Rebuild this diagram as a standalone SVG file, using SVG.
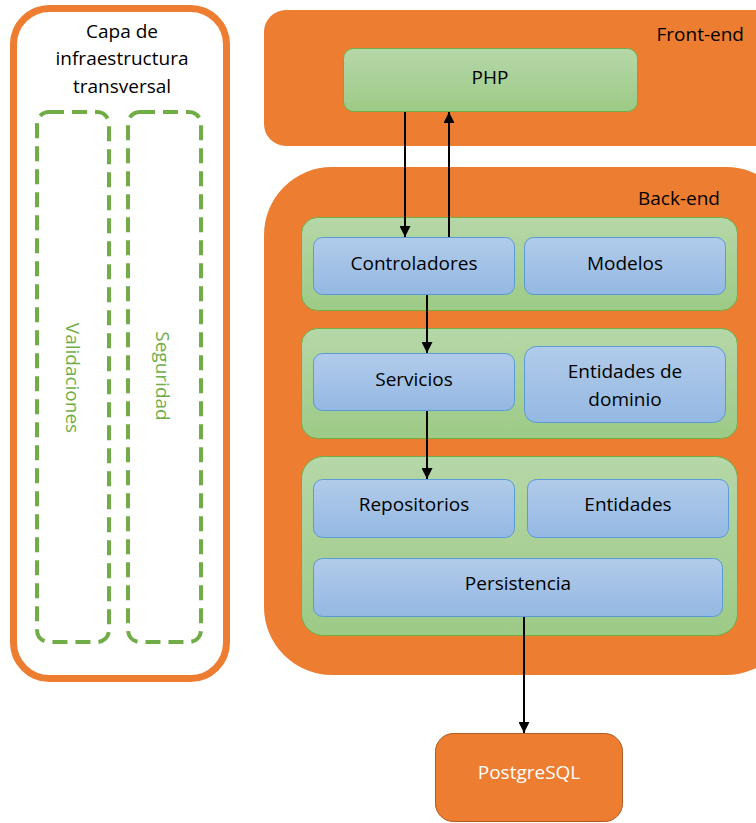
<svg xmlns="http://www.w3.org/2000/svg" width="756" height="823" viewBox="0 0 756 823">
<defs>
<linearGradient id="gGreen" x1="0" y1="0" x2="0" y2="1"><stop offset="0" stop-color="#B6D7A8"/><stop offset="1" stop-color="#9DCA86"/></linearGradient>
<linearGradient id="gBlue" x1="0" y1="0" x2="0" y2="1"><stop offset="0" stop-color="#B1CBEA"/><stop offset="1" stop-color="#94B8E2"/></linearGradient>
<marker id="arr" viewBox="0 0 10 10" refX="10" refY="5" markerWidth="11" markerHeight="11" markerUnits="userSpaceOnUse" orient="auto"><path d="M0,0 L10,5 L0,10 z" fill="#000"/></marker>
<style>
.t{font-family:"Open Sans","Liberation Sans",sans-serif;font-size:19px;fill:#000;text-anchor:middle}
.panel{fill:url(#gGreen);stroke:#70AD47;stroke-width:1}
.blue{fill:url(#gBlue);stroke:#5B9BD5;stroke-width:1}
.orange{fill:#ED7D31}
.dash{fill:none;stroke:#70AD47;stroke-width:4;stroke-dasharray:15 8}
.g{fill:#70AD47}
.c{stroke:#000;stroke-width:2;fill:none;marker-end:url(#arr)}
</style>
</defs>

<g id="infra">
<rect x="13.5" y="8.5" width="213" height="670" rx="36" fill="#fff" stroke="#ED7D31" stroke-width="7"/>
<text class="t" x="122" y="38">Capa de</text>
<text class="t" x="122" y="65">infraestructura</text>
<text class="t" x="122" y="93">transversal</text>
</g>
<g id="validaciones">
<rect class="dash" x="37" y="112" width="72" height="530" rx="12"/>
<text class="t g" transform="translate(66,378) rotate(90)">Validaciones</text>
</g>
<g id="seguridad">
<rect class="dash" x="128" y="112" width="73" height="530" rx="12"/>
<text class="t g" transform="translate(156,376) rotate(90)">Seguridad</text>
</g>

<g id="frontend">
<rect class="orange" x="264" y="10" width="520" height="136" rx="22"/>
<text class="t" x="744" y="41" style="text-anchor:end">Front-end</text>
</g>
<g id="php">
<rect class="panel" x="343.5" y="48.5" width="294" height="63" rx="10"/>
<text class="t" x="490" y="84">PHP</text>
</g>

<g id="backend">
<rect class="orange" x="264" y="167" width="530" height="508" rx="68"/>
<text class="t" x="720" y="205" style="text-anchor:end">Back-end</text>
</g>
<g id="capa1"><rect class="panel" x="301.5" y="217.5" width="436" height="93" rx="16"/></g>
<g id="controladores"><rect class="blue" x="313.5" y="237.5" width="201" height="57" rx="9"/><text class="t" x="414" y="270">Controladores</text></g>
<g id="modelos"><rect class="blue" x="524.5" y="237.5" width="201" height="57" rx="9"/><text class="t" x="625" y="270">Modelos</text></g>

<g id="capa2"><rect class="panel" x="301.5" y="328.5" width="436" height="110" rx="16"/></g>
<g id="servicios"><rect class="blue" x="313.5" y="353.5" width="201" height="57" rx="9"/><text class="t" x="414" y="386">Servicios</text></g>
<g id="entidadesdominio"><rect class="blue" x="524.5" y="346.5" width="201" height="76" rx="12"/><text class="t" x="625" y="378">Entidades de</text><text class="t" x="625" y="406">dominio</text></g>

<g id="capa3"><rect class="panel" x="301.5" y="456.5" width="436" height="179" rx="22"/></g>
<g id="repositorios"><rect class="blue" x="313.5" y="479.5" width="201" height="58" rx="9"/><text class="t" x="414" y="511">Repositorios</text></g>
<g id="entidades"><rect class="blue" x="527.5" y="479.5" width="201" height="58" rx="9"/><text class="t" x="628" y="511">Entidades</text></g>
<g id="persistencia"><rect class="blue" x="313.5" y="558.5" width="409" height="58" rx="9"/><text class="t" x="518" y="590">Persistencia</text></g>

<g id="postgresql">
<rect x="435.5" y="733.5" width="187" height="88" rx="18" fill="#ED7D31" stroke="#AE5A21" stroke-width="1"/>
<text class="t" x="529" y="779" style="fill:#fff">PostgreSQL</text>
</g>

<g id="connectors">
<line class="c" x1="405" y1="112" x2="405" y2="237"/>
<line class="c" x1="449" y1="237" x2="449" y2="112"/>
<line class="c" x1="427" y1="295" x2="427" y2="353"/>
<line class="c" x1="427" y1="411" x2="427" y2="479"/>
<line class="c" x1="524" y1="617" x2="524" y2="733"/>
</g>
</svg>
